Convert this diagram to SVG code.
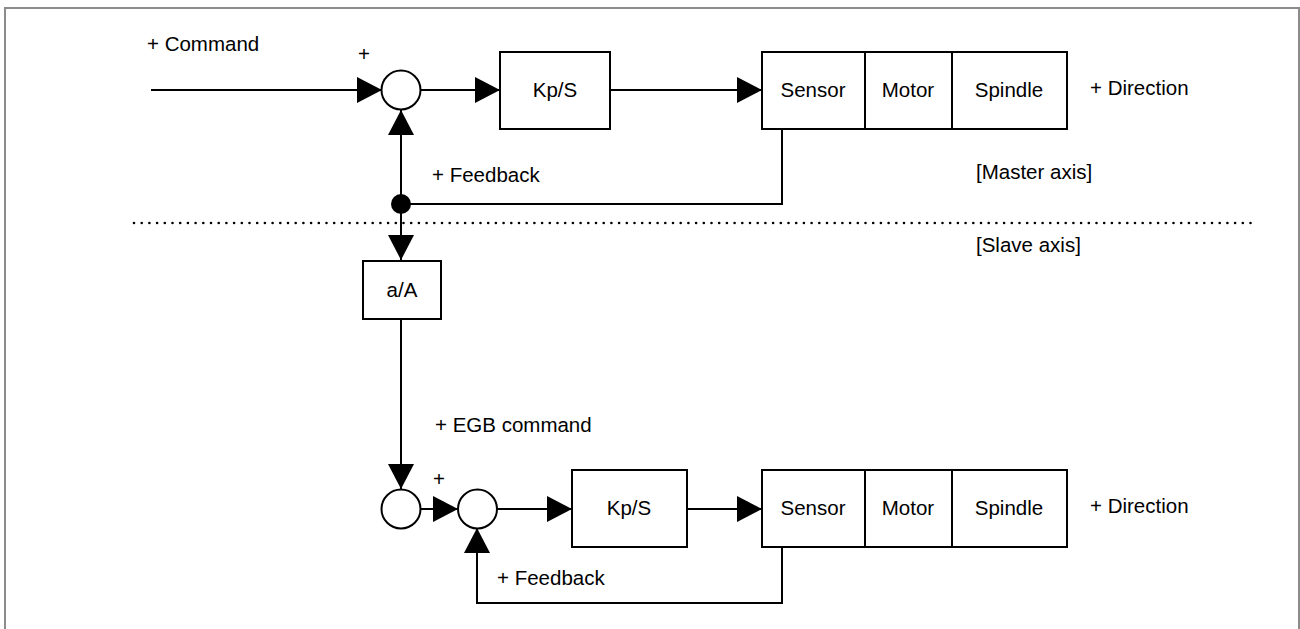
<svg xmlns="http://www.w3.org/2000/svg" width="1300" height="629" viewBox="0 0 1300 629">
<style>
  text { font-family: "Liberation Sans", Arial, sans-serif; font-size: 20.5px; fill: #000; }
  .box { fill: #fff; stroke: #000; stroke-width: 2; }
  .sum { fill: #fff; stroke: #000; stroke-width: 2; }
  .wire { fill: none; stroke: #000; stroke-width: 2; }
  .arr { fill: none; stroke: #000; stroke-width: 2; marker-end: url(#ah); }
  .mid { text-anchor: middle; }
</style>
<defs>
  <marker id="ah" markerUnits="userSpaceOnUse" markerWidth="26" markerHeight="28" refX="25" refY="13" orient="auto" viewBox="0 0 26 26">
    <path d="M0,0 L25,13 L0,26 z" fill="#000"/>
  </marker>
</defs>
<rect width="1300" height="629" fill="#fff"/>
<path d="M5,629 V8 H1299 V629" fill="none" stroke="#8c8c8c" stroke-width="2"/>

<g id="connectors">
  <line class="arr" x1="151" y1="90" x2="382" y2="90"/>
  <line class="arr" x1="421" y1="90" x2="500" y2="90"/>
  <line class="arr" x1="610" y1="90" x2="762" y2="90"/>
  <polyline class="wire" points="782,129 782,204 401,204"/>
  <line class="arr" x1="401" y1="204" x2="401" y2="110"/>
  <line class="arr" x1="401" y1="204" x2="401" y2="260"/>
  <line class="arr" x1="401" y1="319" x2="401" y2="489"/>
  <line class="arr" x1="421" y1="509" x2="458" y2="509"/>
  <line class="arr" x1="497" y1="509" x2="572" y2="509"/>
  <line class="arr" x1="687" y1="509" x2="762" y2="509"/>
  <polyline class="arr" points="782,547 782,603 477,603 477,528"/>
  <line x1="134" y1="223" x2="1252" y2="223" stroke="#000" stroke-width="2.6" stroke-linecap="round" stroke-dasharray="0 7.7"/>
</g>

<g id="sum-master">
  <circle class="sum" cx="401" cy="90" r="19.5"/>
</g>
<g id="branch-dot">
  <circle cx="401" cy="204" r="10" fill="#000"/>
</g>
<g id="kps-master">
  <rect class="box" x="500" y="52" width="110" height="77"/>
  <text class="mid" x="555" y="97">Kp/S</text>
</g>
<g id="plant-master">
  <rect class="box" x="762" y="52" width="305" height="77"/>
  <line class="wire" x1="865" y1="52" x2="865" y2="129"/>
  <line class="wire" x1="952" y1="52" x2="952" y2="129"/>
  <text class="mid" x="813" y="97">Sensor</text>
  <text class="mid" x="908" y="97">Motor</text>
  <text class="mid" x="1009" y="97">Spindle</text>
</g>
<g id="ratio">
  <rect class="box" x="363" y="261" width="78" height="58"/>
  <text class="mid" x="402" y="297">a/A</text>
</g>
<g id="sum-slave-1">
  <circle class="sum" cx="401" cy="509" r="19.5"/>
</g>
<g id="sum-slave-2">
  <circle class="sum" cx="477.5" cy="509" r="19.5"/>
</g>
<g id="kps-slave">
  <rect class="box" x="572" y="470" width="115" height="77"/>
  <text class="mid" x="629" y="515">Kp/S</text>
</g>
<g id="plant-slave">
  <rect class="box" x="762" y="470" width="305" height="77"/>
  <line class="wire" x1="865" y1="470" x2="865" y2="547"/>
  <line class="wire" x1="952" y1="470" x2="952" y2="547"/>
  <text class="mid" x="813" y="515">Sensor</text>
  <text class="mid" x="908" y="515">Motor</text>
  <text class="mid" x="1009" y="515">Spindle</text>
</g>

<g id="labels">
  <text x="147" y="51">+ Command</text>
  <text x="358" y="61">+</text>
  <text x="1090" y="95">+ Direction</text>
  <text x="432" y="182">+ Feedback</text>
  <text x="976" y="179">[Master axis]</text>
  <text x="976" y="252">[Slave axis]</text>
  <text x="435" y="432">+ EGB command</text>
  <text x="433" y="486">+</text>
  <text x="1090" y="513">+ Direction</text>
  <text x="497" y="585">+ Feedback</text>
</g>
</svg>
